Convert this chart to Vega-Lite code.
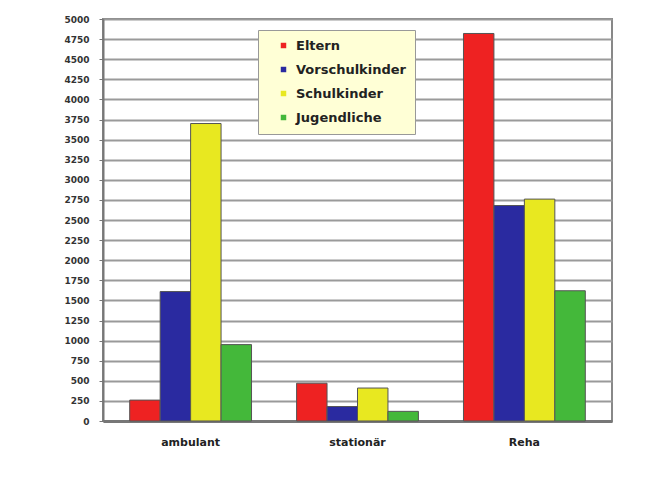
{
  "$schema": "https://vega.github.io/schema/vega-lite/v6.json",
  "autosize": {"type": "none"},
  "width": 509,
  "height": 402,
  "padding": {"left": 103, "top": 19, "right": 45, "bottom": 56},
  "background": "white",
  "data": {
    "values": [
      {"Bereich": "ambulant", "Gruppe": "Eltern", "Anzahl": 260},
      {"Bereich": "ambulant", "Gruppe": "Vorschulkinder", "Anzahl": 1610},
      {"Bereich": "ambulant", "Gruppe": "Schulkinder", "Anzahl": 3700},
      {"Bereich": "ambulant", "Gruppe": "Jugendliche", "Anzahl": 950},
      {"Bereich": "stationär", "Gruppe": "Eltern", "Anzahl": 470},
      {"Bereich": "stationär", "Gruppe": "Vorschulkinder", "Anzahl": 180},
      {"Bereich": "stationär", "Gruppe": "Schulkinder", "Anzahl": 410},
      {"Bereich": "stationär", "Gruppe": "Jugendliche", "Anzahl": 120},
      {"Bereich": "Reha", "Gruppe": "Eltern", "Anzahl": 4820},
      {"Bereich": "Reha", "Gruppe": "Vorschulkinder", "Anzahl": 2680},
      {"Bereich": "Reha", "Gruppe": "Schulkinder", "Anzahl": 2760},
      {"Bereich": "Reha", "Gruppe": "Jugendliche", "Anzahl": 1620}
    ]
  },
  "mark": {"type": "bar", "strokeWidth": 1, "stroke": "#555"},
  "encoding": {
    "x": {
      "field": "Bereich",
      "type": "nominal",
      "sort": ["ambulant", "stationär", "Reha"],
      "scale": {"paddingInner": 0.27, "paddingOuter": 0.16},
      "axis": {
        "title": null,
        "labelAngle": 0,
        "labelFont": "DejaVu Sans",
        "labelFontWeight": "bold",
        "labelFontSize": 11,
        "labelColor": "#222",
        "labelPadding": 15,
        "ticks": false,
        "domainColor": "#777",
        "domainWidth": 3
      }
    },
    "xOffset": {
      "field": "Gruppe",
      "type": "nominal",
      "sort": ["Eltern", "Vorschulkinder", "Schulkinder", "Jugendliche"],
      "scale": {"paddingInner": 0, "paddingOuter": 0}
    },
    "y": {
      "field": "Anzahl",
      "type": "quantitative",
      "scale": {"domain": [0, 5000], "nice": false},
      "axis": {
        "title": null,
        "format": "d",
        "values": [0, 250, 500, 750, 1000, 1250, 1500, 1750, 2000, 2250, 2500, 2750, 3000, 3250, 3500, 3750, 4000, 4250, 4500, 4750, 5000],
        "labelFont": "DejaVu Sans",
        "labelFontWeight": "bold",
        "labelFontSize": 9,
        "labelColor": "#333",
        "labelPadding": 10,
        "tickColor": "#777",
        "tickSize": 4,
        "domainColor": "#777",
        "domainWidth": 2,
        "gridColor": "#9a9a9a",
        "gridWidth": 2
      }
    },
    "color": {
      "field": "Gruppe",
      "type": "nominal",
      "sort": ["Eltern", "Vorschulkinder", "Schulkinder", "Jugendliche"],
      "scale": {
        "domain": ["Eltern", "Vorschulkinder", "Schulkinder", "Jugendliche"],
        "range": ["#ee2222", "#2a2aa0", "#e8e820", "#44b83a"]
      },
      "legend": {
        "title": null,
        "orient": "none",
        "legendX": 155,
        "legendY": 11,
        "fillColor": "#ffffd6",
        "strokeColor": "#999",
        "padding": 9,
        "symbolType": "square",
        "symbolSize": 30,
        "symbolStrokeWidth": 0,
        "labelFont": "DejaVu Sans",
        "labelFontWeight": "bold",
        "labelFontSize": 13,
        "labelColor": "#222",
        "labelLimit": 240,
        "labelOffset": 6,
        "rowPadding": 10,
        "symbolOffset": 10
      }
    }
  },
  "config": {
    "view": {"stroke": "#888", "strokeWidth": 2}
  }
}
